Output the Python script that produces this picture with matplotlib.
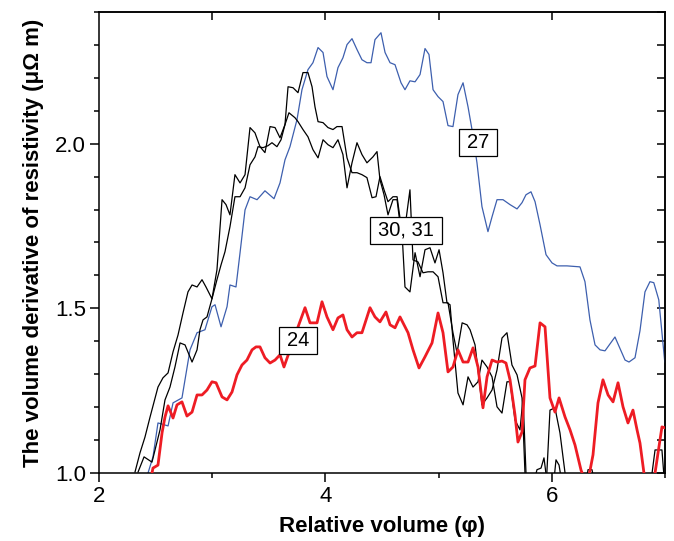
import matplotlib
matplotlib.use("Agg")
import matplotlib.pyplot as plt
from matplotlib.path import Path
from matplotlib.ticker import MultipleLocator, FixedLocator, NullFormatter, FormatStrFormatter

plt.rcParams['font.family'] = ['Liberation Sans', 'DejaVu Sans']

# Sample 27 (blue)
x27 = [2.433, 2.477, 2.521, 2.610, 2.654, 2.733, 2.804, 2.866, 2.936, 2.998, 3.025, 3.078, 3.131,
       3.157, 3.210, 3.246, 3.290, 3.334, 3.396, 3.466, 3.546, 3.599, 3.643, 3.687, 3.749, 3.793,
       3.846, 3.890, 3.935, 3.979, 4.014, 4.067, 4.111, 4.155, 4.191, 4.235, 4.279, 4.323, 4.367,
       4.403, 4.438, 4.491, 4.527, 4.571, 4.615, 4.668, 4.703, 4.747, 4.792, 4.836, 4.880, 4.915,
       4.951, 4.995, 5.039, 5.083, 5.127, 5.171, 5.216, 5.260, 5.295, 5.339, 5.383, 5.436, 5.472,
       5.516, 5.569, 5.631, 5.693, 5.737, 5.772, 5.816, 5.852, 5.896, 5.949, 6.002, 6.046, 6.134,
       6.249, 6.293, 6.337, 6.382, 6.426, 6.470, 6.558, 6.647, 6.682, 6.735, 6.779, 6.823, 6.867,
       6.901, 6.945, 6.998]
y27 = [1.000, 1.049, 1.152, 1.143, 1.213, 1.228, 1.374, 1.426, 1.435, 1.505, 1.511, 1.444, 1.505,
       1.571, 1.565, 1.669, 1.799, 1.839, 1.830, 1.857, 1.833, 1.881, 1.951, 1.991, 2.073, 2.164,
       2.225, 2.246, 2.292, 2.277, 2.204, 2.164, 2.231, 2.261, 2.301, 2.319, 2.286, 2.255, 2.246,
       2.246, 2.316, 2.337, 2.277, 2.246, 2.240, 2.185, 2.164, 2.191, 2.188, 2.210, 2.289, 2.271,
       2.164, 2.143, 2.128, 2.055, 2.052, 2.149, 2.185, 2.112, 2.043, 1.942, 1.809, 1.733, 1.778,
       1.830, 1.830, 1.815, 1.802, 1.821, 1.845, 1.854, 1.824, 1.754, 1.663, 1.638, 1.629, 1.629,
       1.626, 1.581, 1.465, 1.389, 1.374, 1.371, 1.413, 1.343, 1.337, 1.350, 1.432, 1.550, 1.581,
       1.578, 1.526, 1.337]

# Sample 24 (red)
x24 = [2.468, 2.477, 2.521, 2.557, 2.583, 2.610, 2.654, 2.689, 2.733, 2.777, 2.822, 2.866, 2.910,
       2.954, 2.998, 3.034, 3.087, 3.131, 3.175, 3.219, 3.263, 3.307, 3.352, 3.387, 3.422, 3.466,
       3.511, 3.555, 3.599, 3.634, 3.678, 3.749, 3.820, 3.864, 3.926, 3.970, 4.014, 4.067, 4.111,
       4.155, 4.191, 4.235, 4.279, 4.323, 4.394, 4.438, 4.482, 4.535, 4.571, 4.615, 4.659, 4.730,
       4.774, 4.827, 4.880, 4.942, 4.995, 5.039, 5.083, 5.127, 5.171, 5.216, 5.260, 5.304, 5.348,
       5.392, 5.428, 5.472, 5.516, 5.560, 5.595, 5.631, 5.675, 5.701, 5.737, 5.763, 5.807, 5.852,
       5.896, 5.940, 5.984, 6.028, 6.064, 6.117, 6.161, 6.205, 6.258, 6.311, 6.364, 6.408, 6.452,
       6.497, 6.541, 6.585, 6.629, 6.673, 6.717, 6.753, 6.779, 6.814, 6.867, 6.912, 6.973, 7.000]
y24 = [1.000, 1.015, 1.024, 1.122, 1.170, 1.204, 1.167, 1.207, 1.216, 1.173, 1.185, 1.237, 1.237,
       1.252, 1.277, 1.274, 1.231, 1.222, 1.246, 1.298, 1.328, 1.343, 1.374, 1.383, 1.383, 1.350,
       1.334, 1.343, 1.359, 1.322, 1.365, 1.435, 1.502, 1.456, 1.456, 1.520, 1.474, 1.435, 1.471,
       1.480, 1.435, 1.413, 1.426, 1.426, 1.502, 1.474, 1.459, 1.489, 1.450, 1.441, 1.474, 1.426,
       1.374, 1.319, 1.353, 1.395, 1.486, 1.426, 1.307, 1.322, 1.374, 1.337, 1.337, 1.380, 1.322,
       1.198, 1.292, 1.343, 1.337, 1.340, 1.334, 1.283, 1.176, 1.094, 1.125, 1.283, 1.319, 1.325,
       1.456, 1.444, 1.228, 1.185, 1.228, 1.170, 1.131, 1.085, 1.009, 0.960, 1.055, 1.213, 1.283,
       1.237, 1.216, 1.274, 1.201, 1.152, 1.191, 1.131, 1.091, 1.000, 0.950, 1.000, 1.140, 1.137]

# Sample 30 (black)
x30 = [2.318, 2.362, 2.406, 2.451, 2.521, 2.565, 2.610, 2.654, 2.698, 2.742, 2.786, 2.822, 2.866,
       2.910, 2.945, 2.998, 3.042, 3.087, 3.122, 3.157, 3.201, 3.246, 3.290, 3.334, 3.378, 3.422,
       3.466, 3.511, 3.555, 3.599, 3.643, 3.670, 3.714, 3.758, 3.802, 3.846, 3.882, 3.908, 3.935,
       3.979, 4.023, 4.067, 4.102, 4.147, 4.191, 4.235, 4.279, 4.323, 4.367, 4.412, 4.447, 4.482,
       4.518, 4.553, 4.597, 4.633, 4.677, 4.703, 4.747, 4.792, 4.836, 4.880, 4.924, 4.968, 5.004,
       5.039, 5.074, 5.101, 5.127, 5.171, 5.216, 5.260, 5.304, 5.348, 5.383, 5.428, 5.472, 5.516,
       5.560, 5.604, 5.631, 5.675, 5.719, 5.746, 5.772, 5.825, 5.869, 5.905, 5.931, 5.966, 6.011,
       6.037, 6.064, 6.099, 6.293, 6.320, 6.355, 6.390, 6.867, 6.912, 6.973, 7.000]
y30 = [1.003, 1.061, 1.109, 1.170, 1.261, 1.289, 1.304, 1.368, 1.419, 1.486, 1.550, 1.571, 1.565,
       1.587, 1.565, 1.529, 1.617, 1.830, 1.815, 1.784, 1.906, 1.881, 1.906, 2.049, 2.033, 1.991,
       1.973, 2.052, 2.049, 2.018, 2.058, 2.173, 2.170, 2.155, 2.216, 2.216, 2.173, 2.112, 2.067,
       2.064, 2.049, 2.043, 2.052, 2.052, 1.957, 1.912, 1.912, 1.906, 1.897, 1.836, 1.839, 1.900,
       1.860, 1.824, 1.839, 1.839, 1.729, 1.565, 1.550, 1.669, 1.596, 1.678, 1.684, 1.638, 1.678,
       1.608, 1.517, 1.511, 1.404, 1.243, 1.207, 1.292, 1.261, 1.277, 1.343, 1.322, 1.292, 1.201,
       1.182, 1.277, 1.277, 1.161, 1.131, 1.228, 1.000, 0.950, 1.010, 1.015, 1.046, 0.950, 0.950,
       1.040, 1.024, 0.950, 0.950, 1.010, 1.010, 0.950, 0.950, 1.070, 1.070, 0.950]

# Sample 31 (black)
x31 = [2.345, 2.398, 2.468, 2.495, 2.539, 2.583, 2.627, 2.671, 2.716, 2.760, 2.822, 2.866, 2.892,
       2.919, 2.954, 2.998, 3.042, 3.078, 3.113, 3.157, 3.201, 3.246, 3.290, 3.334, 3.378, 3.405,
       3.449, 3.493, 3.528, 3.572, 3.608, 3.643, 3.678, 3.731, 3.758, 3.802, 3.846, 3.890, 3.935,
       3.979, 4.023, 4.067, 4.111, 4.155, 4.191, 4.235, 4.279, 4.323, 4.367, 4.420, 4.456, 4.482,
       4.518, 4.553, 4.597, 4.633, 4.677, 4.712, 4.747, 4.774, 4.818, 4.862, 4.906, 4.951, 4.995,
       5.039, 5.083, 5.127, 5.163, 5.208, 5.251, 5.278, 5.322, 5.348, 5.383, 5.428, 5.472, 5.516,
       5.560, 5.604, 5.648, 5.693, 5.737, 5.763, 5.807, 5.949, 5.984, 6.028, 6.072, 6.117, 6.161,
       7.000]
y31 = [1.003, 1.049, 1.033, 1.070, 1.131, 1.222, 1.261, 1.322, 1.395, 1.389, 1.337, 1.374, 1.435,
       1.465, 1.474, 1.529, 1.587, 1.632, 1.672, 1.748, 1.839, 1.839, 1.866, 1.936, 1.960, 1.991,
       1.988, 1.994, 2.003, 1.991, 2.012, 2.058, 2.094, 2.079, 2.067, 2.043, 2.021, 1.982, 1.957,
       2.012, 1.997, 1.988, 2.012, 1.967, 1.866, 1.942, 2.003, 1.967, 1.942, 1.960, 1.976, 1.891,
       1.845, 1.784, 1.830, 1.830, 1.708, 1.769, 1.860, 1.647, 1.641, 1.608, 1.611, 1.611, 1.596,
       1.517, 1.517, 1.426, 1.365, 1.456, 1.450, 1.435, 1.389, 1.313, 1.207, 1.228, 1.252, 1.313,
       1.410, 1.426, 1.328, 1.298, 1.228, 1.000, 0.950, 0.950, 1.191, 1.198, 1.122, 1.000, 0.950,
       0.950]

# Curve labels: text and anchor (data coords)
labels = ["24", "27", "30, 31"]
label_x = [3.758, 5.348, 4.712]
label_y = [1.403, 2.003, 1.737]

x_major = [2, 4, 6]
x_minor = [3, 5, 7]


def label_box(x0, y0, width, height, mutation_size):
    """Rectangular box with more horizontal than vertical padding."""
    px = 0.40 * mutation_size
    py = 0.20 * mutation_size
    x0, y0 = x0 - px, y0 - py
    x1, y1 = x0 + width + 2 * px, y0 + height + 2 * py
    return Path([(x0, y0), (x1, y0), (x1, y1), (x0, y1), (x0, y0)], closed=True)


fig = plt.figure(figsize=(6.74, 5.41), dpi=100)
ax = fig.add_axes([99 / 674, 68 / 541, 566 / 674, 461 / 541])

ax.plot(x27, y27, color='#3d5fae', lw=0.9, zorder=2)
ax.plot(x30, y30, color='black', lw=0.9, zorder=3)
ax.plot(x31, y31, color='black', lw=0.9, zorder=3)
ax.plot(x24, y24, color='#ee1c24', lw=2.0, zorder=4)

for t, lx, ly in zip(labels, label_x, label_y):
    ax.text(lx, ly, t, ha='center', va='center', fontsize=14.5, zorder=6,
            bbox=dict(boxstyle=label_box, facecolor='white', edgecolor='black', linewidth=0.9))

ax.set_xlim(2, 7)
ax.set_ylim(1.0, 2.4)

ax.xaxis.set_major_locator(FixedLocator(x_major))
ax.xaxis.set_minor_locator(FixedLocator(x_minor))
ax.yaxis.set_major_locator(MultipleLocator(0.5))
ax.yaxis.set_minor_locator(MultipleLocator(0.1))
ax.yaxis.set_major_formatter(FormatStrFormatter('%.1f'))

ax.tick_params(which='major', direction='out', length=6.5, width=1.1, labelsize=16, pad=3)
ax.tick_params(which='minor', direction='out', length=3.8, width=1.1)

for s in ax.spines.values():
    s.set_linewidth(1.1)

# inward ticks on top and right
secx = ax.secondary_xaxis('top')
secx.xaxis.set_major_locator(FixedLocator([3, 4, 5, 6]))
secx.xaxis.set_major_formatter(NullFormatter())
secx.tick_params(direction='in', length=5.5, width=1.1)
secx.spines['top'].set_linewidth(1.1)

secy = ax.secondary_yaxis('right')
secy.yaxis.set_major_locator(MultipleLocator(0.1))
secy.yaxis.set_major_formatter(NullFormatter())
secy.tick_params(direction='in', length=5.5, width=1.1)
secy.spines['right'].set_linewidth(1.1)

ax.set_xlabel("Relative volume (φ)", fontsize=16, fontweight='bold', labelpad=6)
ax.set_ylabel("The volume derivative of resistivity (μΩ m)", fontsize=16, fontweight='bold', labelpad=8)

fig.savefig("out.png", dpi=100)
